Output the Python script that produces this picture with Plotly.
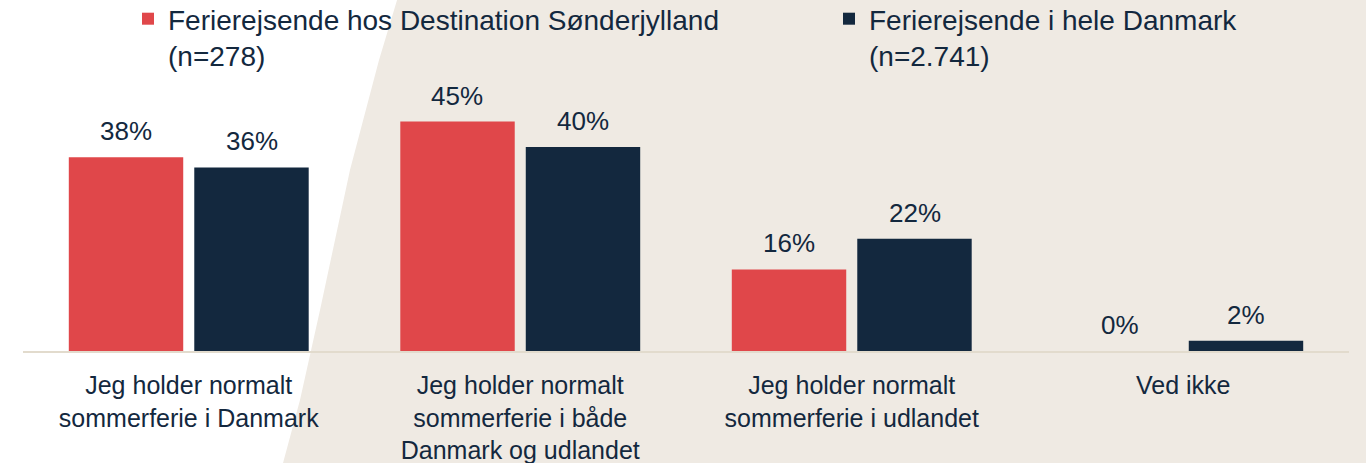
import plotly.graph_objects as go

categories = [
    "Jeg holder normalt<br>sommerferie i Danmark",
    "Jeg holder normalt<br>sommerferie i både<br>Danmark og udlandet",
    "Jeg holder normalt<br>sommerferie i udlandet",
    "Ved ikke",
]
series_names = [
    "Ferierejsende hos Destination Sønderjylland<br>(n=278)",
    "Ferierejsende i hele Danmark<br>(n=2.741)",
]
sonderjylland = [38, 45, 16, 0]
danmark = [36, 40, 22, 2]

RED = "#E0474A"
NAVY = "#13283E"
BEIGE = "#EFEAE3"
AXIS = "#E2DBCD"
FONT = "Liberation Sans, Arial, sans-serif"

fig = go.Figure()
fig.add_trace(go.Bar(x=categories, y=sonderjylland, name=series_names[0],
                     marker=dict(color=RED, line_width=0), legend="legend"))
fig.add_trace(go.Bar(x=categories, y=danmark, name=series_names[1],
                     marker=dict(color=NAVY, line_width=0), legend="legend2"))

# value labels
for vals, shift in [(sonderjylland, -63), (danmark, 63)]:
    for c, v in zip(categories, vals):
        fig.add_annotation(x=c, y=v, text=f"{v}%", showarrow=False, xshift=shift,
                           yshift=26, yanchor="middle", font=dict(size=26, color=NAVY, family=FONT))

# beige background wedge (paper coords)
path = ("M 0.2865,1.50 L 0.2821,1.3765 L 0.2685,1.1412 L 0.2466,0.7098 L 0.2240,0.1608 "
        "L 0.2089,-0.1922 L 0.1961,-0.4392 L 0.192,-0.52 L 1.05,-0.52 L 1.05,1.50 Z")
fig.add_shape(type="path", path=path, xref="paper", yref="paper", fillcolor=BEIGE,
              line_width=0, layer="below")

leg_common = dict(orientation="h", yref="paper", y=1.4, xanchor="left", yanchor="top",
                  font=dict(size=28, color=NAVY, family=FONT), valign="top",
                  bgcolor="rgba(0,0,0,0)")
fig.update_layout(
    width=1366, height=463,
    margin=dict(l=23, r=17, t=96, b=112, autoexpand=False),
    paper_bgcolor="white", plot_bgcolor="rgba(0,0,0,0)",
    barmode="group", bargap=0.243, bargroupgap=0.088,
    font=dict(family=FONT, color=NAVY),
    showlegend=True,
    legend=dict(x=(128 - 23) / 1326, **leg_common),
    legend2=dict(x=(829 - 23) / 1326, **leg_common),
)
fig.update_xaxes(showline=True, linecolor=AXIS, linewidth=2, ticks="", showgrid=False,
                 automargin=False,
                 tickfont=dict(size=25, color=NAVY, family=FONT), ticklabelstandoff=11)
fig.update_yaxes(range=[0, 50], visible=False, showgrid=False, automargin=False)

fig.write_html("out.html", config={"displayModeBar": False},
               post_script="document.body.style.margin='0';")
